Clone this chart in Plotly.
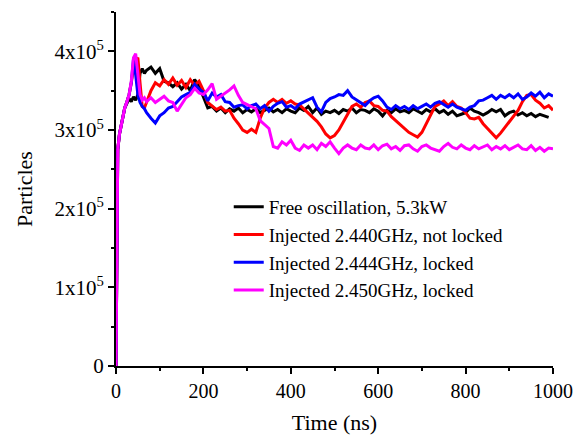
import plotly.graph_objects as go

# time grid (ns)
time_ns = [0, 2, 4, 8, 12, 16, 20, 25, 30, 35, 40, 45, 50, 55, 60, 65] + list(range(70, 1001, 10))

# particle counts in units of 1e5
free_osc = [0, 2.3, 2.75, 2.95, 3.05, 3.15, 3.28, 3.34, 3.40, 3.36, 3.42, 3.38, 3.45, 3.72, 3.78, 3.72,
            3.76, 3.80, 3.72, 3.78, 3.62, 3.60, 3.55, 3.60, 3.52, 3.58, 3.50, 3.64, 3.55,
            3.42, 3.28, 3.30, 3.24, 3.28, 3.22, 3.27, 3.24, 3.28, 3.22, 3.26, 3.23, 3.27, 3.22, 3.25,
            3.28, 3.23, 3.26, 3.22, 3.27, 3.24, 3.22, 3.28, 3.25, 3.30, 3.22, 3.28, 3.20, 3.24, 3.22,
            3.25, 3.21, 3.26, 3.24, 3.28, 3.22, 3.26, 3.25, 3.22, 3.27, 3.24, 3.18, 3.25, 3.22, 3.27,
            3.23, 3.25, 3.22, 3.27, 3.24, 3.21, 3.26, 3.23, 3.27, 3.22, 3.25, 3.20, 3.24, 3.18, 3.20,
            3.22, 3.28, 3.24, 3.22, 3.19, 3.22, 3.26, 3.23, 3.26, 3.18, 3.22, 3.24, 3.19, 3.22, 3.18,
            3.21, 3.17, 3.20, 3.18, 3.16]
inj_2440 = [0, 2.3, 2.75, 2.95, 3.05, 3.15, 3.28, 3.36, 3.45, 3.60, 3.80, 3.88, 3.92, 3.60, 3.30, 3.28,
            3.35, 3.50, 3.60, 3.56, 3.64, 3.58, 3.66, 3.57, 3.63, 3.54, 3.64, 3.57, 3.62,
            3.50, 3.35, 3.30, 3.26, 3.29, 3.24, 3.25, 3.15, 3.08, 3.00, 2.97, 3.01, 2.97, 3.15, 3.28,
            3.35, 3.39, 3.35, 3.39, 3.34, 3.37, 3.33, 3.32, 3.27, 3.22, 3.17, 3.11, 3.04, 2.95, 2.90,
            2.93, 3.00, 3.10, 3.20, 3.30, 3.33, 3.29, 3.35, 3.37, 3.31, 3.30, 3.25, 3.24, 3.17, 3.12,
            3.07, 3.02, 2.97, 2.94, 2.91, 2.97, 3.08, 3.20, 3.30, 3.33, 3.37, 3.31, 3.36, 3.30, 3.28,
            3.22, 3.15, 3.14, 3.16, 3.08, 3.02, 2.95, 2.90, 2.96, 3.03, 3.10, 3.18, 3.25, 3.36, 3.44,
            3.45, 3.38, 3.34, 3.28, 3.31, 3.25]
inj_2444 = [0, 2.3, 2.75, 2.95, 3.05, 3.15, 3.28, 3.36, 3.45, 3.60, 3.90, 3.70, 3.45, 3.35, 3.30, 3.27,
            3.22, 3.15, 3.09, 3.18, 3.22, 3.28, 3.30, 3.36, 3.42, 3.45, 3.48, 3.58, 3.52,
            3.48, 3.37, 3.47, 3.42, 3.45, 3.36, 3.35, 3.29, 3.31, 3.32, 3.27, 3.31, 3.33, 3.27, 3.31,
            3.24, 3.30, 3.34, 3.36, 3.29, 3.31, 3.27, 3.33, 3.36, 3.38, 3.41, 3.29, 3.23, 3.35, 3.40,
            3.42, 3.45, 3.44, 3.50, 3.42, 3.38, 3.35, 3.31, 3.37, 3.41, 3.43, 3.37, 3.29, 3.26, 3.31,
            3.27, 3.30, 3.26, 3.31, 3.27, 3.30, 3.33, 3.29, 3.34, 3.36, 3.32, 3.29, 3.33, 3.29, 3.27,
            3.25, 3.29, 3.31, 3.37, 3.38, 3.41, 3.44, 3.39, 3.44, 3.41, 3.45, 3.41, 3.46, 3.39, 3.42,
            3.47, 3.43, 3.48, 3.41, 3.46, 3.43]
inj_2450 = [0, 2.3, 2.75, 2.95, 3.05, 3.15, 3.28, 3.36, 3.45, 3.62, 3.92, 3.97, 3.70, 3.45, 3.38, 3.41,
            3.36, 3.41, 3.35, 3.39, 3.43, 3.37, 3.35, 3.24, 3.32, 3.41, 3.45, 3.53, 3.47,
            3.45, 3.51, 3.59, 3.39, 3.43, 3.46, 3.51, 3.56, 3.44, 3.35, 3.32, 3.30, 3.27, 3.12, 3.07,
            3.02, 2.79, 2.77, 2.85, 2.81, 2.87, 2.77, 2.74, 2.81, 2.77, 2.81, 2.75, 2.83, 2.79, 2.85,
            2.77, 2.70, 2.77, 2.81, 2.77, 2.75, 2.81, 2.77, 2.76, 2.81, 2.75, 2.80, 2.82, 2.76, 2.79,
            2.74, 2.80, 2.81, 2.76, 2.73, 2.79, 2.81, 2.77, 2.75, 2.73, 2.79, 2.83, 2.78, 2.76, 2.81,
            2.77, 2.75, 2.80, 2.76, 2.79, 2.81, 2.75, 2.79, 2.76, 2.80, 2.75, 2.78, 2.81, 2.76, 2.75,
            2.80, 2.74, 2.78, 2.73, 2.77, 2.76]

series = [
    ("Free oscillation, 5.3kW", free_osc, "#000000"),
    ("Injected 2.440GHz, not locked", inj_2440, "#FF0000"),
    ("Injected 2.444GHz, locked", inj_2444, "#0000FF"),
    ("Injected 2.450GHz, locked", inj_2450, "#FF00FF"),
]

y_tickvals = [0, 1, 2, 3, 4]
y_ticktext = ["0", "1x10<sup>5</sup>", "2x10<sup>5</sup>", "3x10<sup>5</sup>", "4x10<sup>5</sup>"]

fig = go.Figure()
for name, vals, color in series:
    fig.add_trace(go.Scatter(x=time_ns, y=vals, mode="lines", name=name,
                             line=dict(color=color, width=3)))

font_family = "Liberation Serif"
fig.update_layout(
    width=585, height=436,
    margin=dict(l=116, r=32, t=12, b=70),
    paper_bgcolor="white", plot_bgcolor="white",
    font=dict(family=font_family, size=20, color="black"),
    showlegend=True,
    legend=dict(x=0.258, y=0.503, xanchor="left", yanchor="top",
                bgcolor="rgba(0,0,0,0)", font=dict(size=19, family=font_family),
                tracegroupgap=0, itemwidth=30),
)
fig.update_xaxes(
    range=[0, 1000], tickvals=[0, 200, 400, 600, 800, 1000],
    showline=True, linewidth=2, linecolor="black", mirror=False,
    ticks="outside", ticklen=6, tickwidth=2, tickcolor="black",
    minor=dict(dtick=100, ticks="outside", ticklen=3, tickwidth=2, tickcolor="black"),
    showgrid=False, zeroline=False, ticklabelstandoff=0, automargin=False,
    title=dict(text="Time (ns)", font=dict(size=22, family=font_family), standoff=14),
    tickfont=dict(size=20, family=font_family),
)
fig.update_yaxes(
    range=[0, 4.5], tickvals=y_tickvals, ticktext=y_ticktext,
    showline=True, linewidth=2, linecolor="black", mirror=False,
    ticks="outside", ticklen=6, tickwidth=2, tickcolor="black",
    minor=dict(tickvals=[0.5, 1.5, 2.5, 3.5, 4.5], ticks="outside", ticklen=3, tickwidth=2, tickcolor="black"),
    showgrid=False, zeroline=False, automargin=False,
    title=dict(text="Particles", font=dict(size=22, family=font_family), standoff=16),
    tickfont=dict(size=21, family=font_family),
)

fig.write_html("out.html", config={"displayModeBar": False},
               post_script="document.body.style.margin='0';document.body.style.overflow='hidden';")
